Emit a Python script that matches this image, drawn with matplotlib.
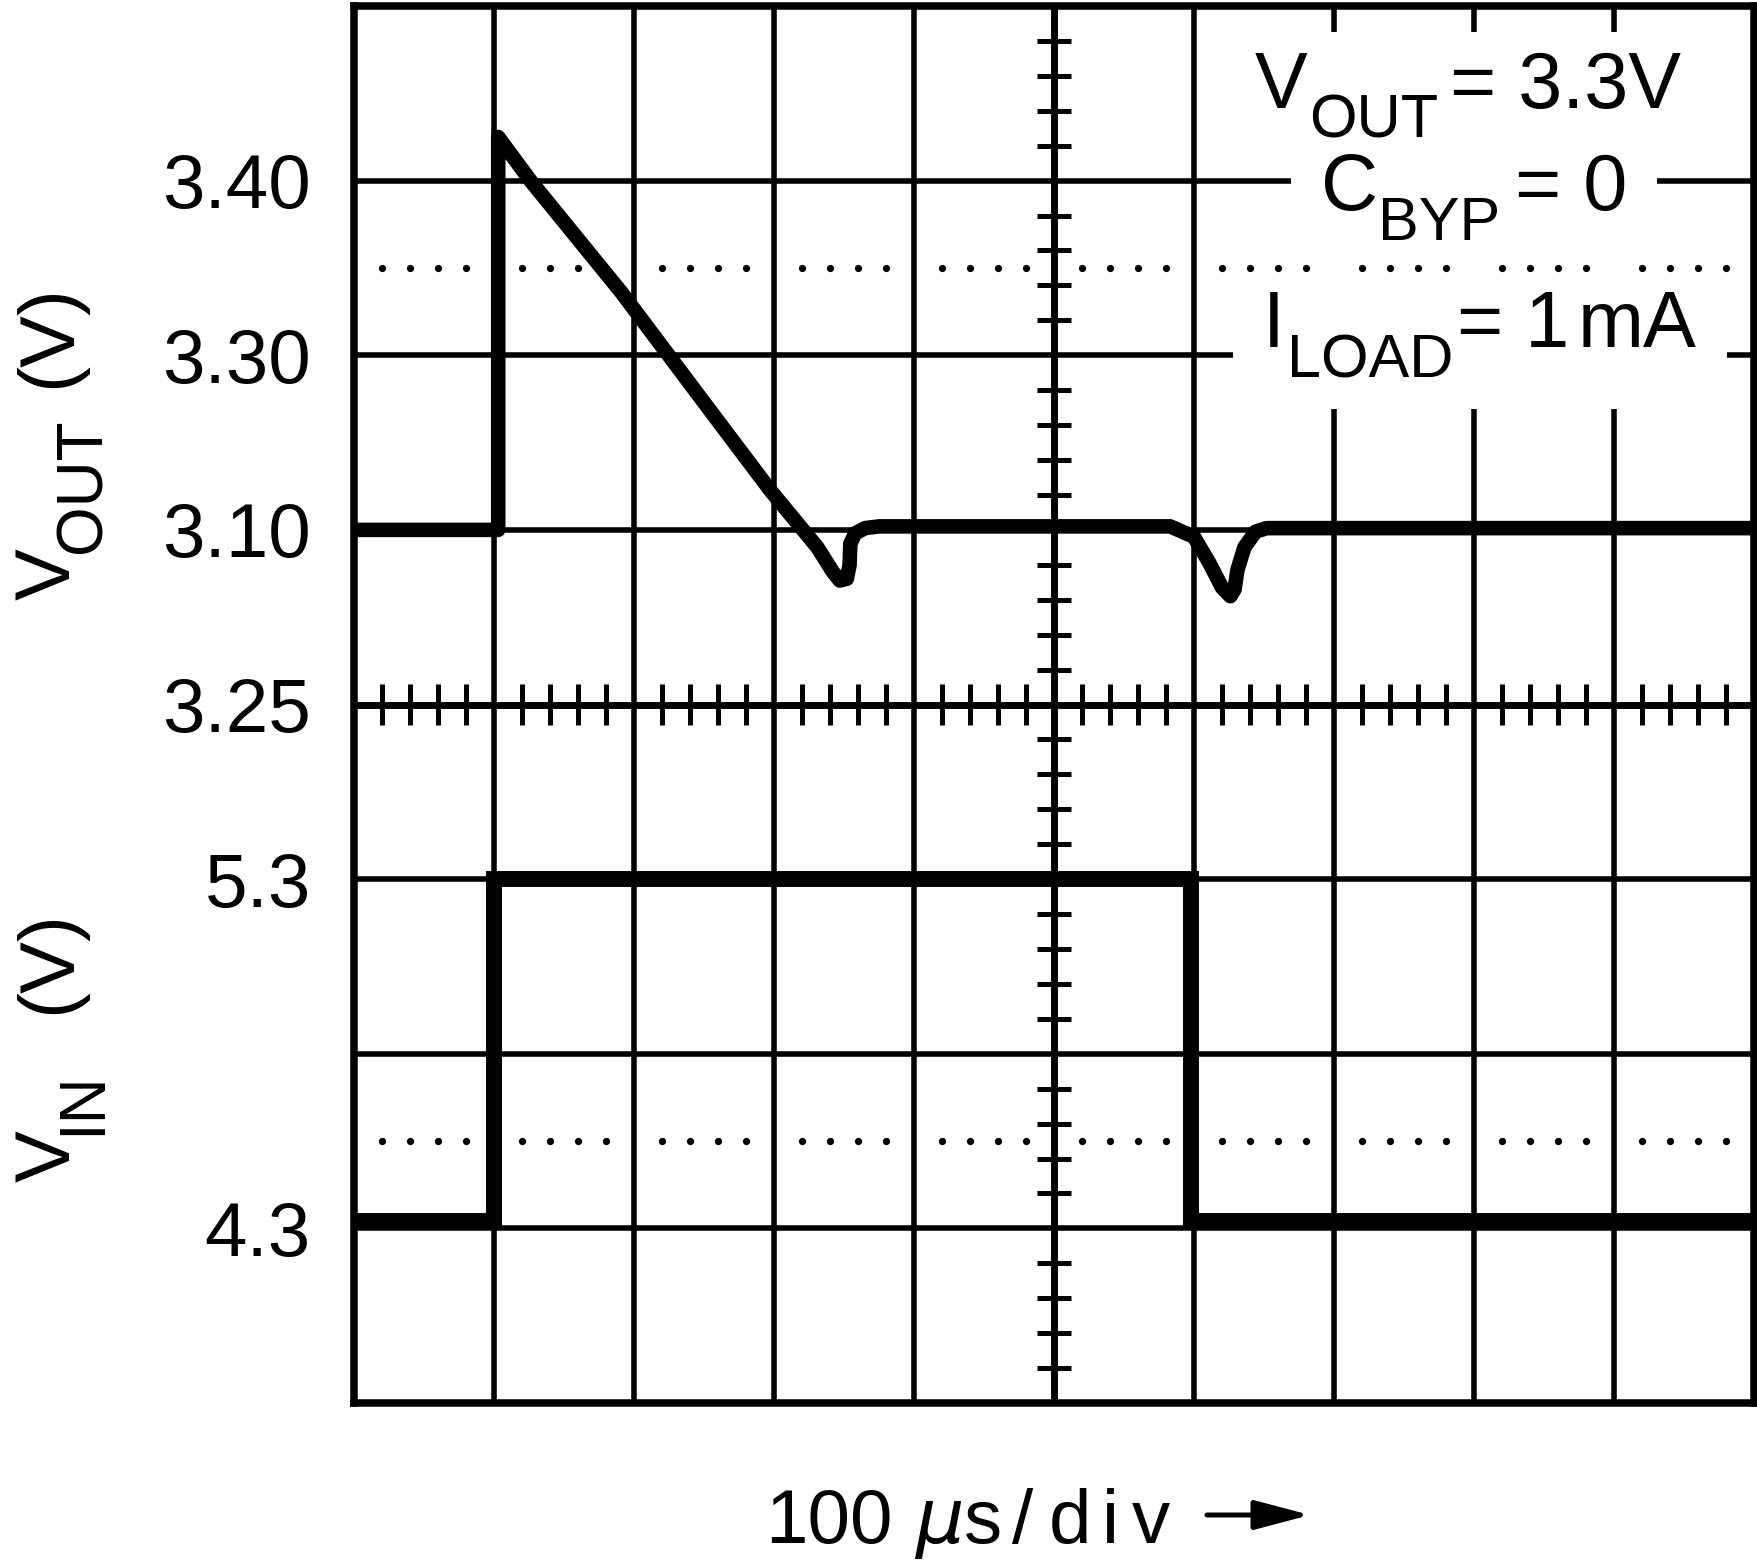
import matplotlib
matplotlib.use('Agg')
import matplotlib.pyplot as plt
from matplotlib.patches import Rectangle
from matplotlib.transforms import IdentityTransform, Bbox

plt.rcParams['font.family'] = ['Liberation Sans', 'DejaVu Sans']

W, H, DPI = 1758, 1562, 100

# scope traces, in screen divisions (10 across, 8 high, origin bottom-left)
vout_t = [0.0, 1.03, 1.03, 1.26, 1.91, 2.5, 2.97, 3.31, 3.42, 3.47, 3.52, 3.54,
          3.545, 3.58, 3.65, 3.75, 5.83, 6.0, 6.11, 6.2, 6.26, 6.29, 6.31, 6.36,
          6.44, 6.52, 10.0]
vout_v = [5.0, 5.0, 7.25, 7.0, 6.36, 5.73, 5.23, 4.90, 4.76, 4.71, 4.72, 4.80,
          4.92, 4.98, 5.01, 5.02, 5.02, 4.96, 4.81, 4.67, 4.62, 4.66, 4.77, 4.90,
          4.99, 5.01, 5.01]
vin_t = [0.0, 1.0, 1.0, 5.98, 5.98, 10.0]
vin_v = [1.04, 1.04, 3.0, 3.0, 1.04, 1.04]

ytick_pos = [7, 6, 5, 4, 3, 1]
ytick_labels = ['3.40', '3.30', '3.10', '3.25', '5.3', '4.3']
dotted_rows = [6.5, 1.5]

fig = plt.figure(figsize=(W / DPI, H / DPI), dpi=DPI)
ax = fig.add_axes([354 / W, (H - 1403) / H, 1400 / W, 1397 / H])
ax.set_xlim(0, 10)
ax.set_ylim(0, 8)

# graticule
for x in range(1, 10):
    ax.axvline(x, color='k', lw=5.0 if x == 5 else 4.0, zorder=1)
for y in range(1, 8):
    ax.axhline(y, color='k', lw=5.0 if y == 4 else 4.0, zorder=1)
minor = [k * 0.2 for k in range(1, 50) if k % 5]
ax.vlines(minor, 4 - 0.115, 4 + 0.115, color='k', lw=3.6, zorder=1.5)
ax.hlines([k * 0.2 for k in range(1, 40) if k % 5], 5 - 0.12, 5 + 0.12,
          color='k', lw=3.6, zorder=1.5)
for row in dotted_rows:
    ax.plot(minor, [row] * len(minor), 'o', ms=5.2, color='k', mew=0, zorder=3)

for s in ax.spines.values():
    s.set_linewidth(5.4)
    s.set_zorder(6)

# traces
ax.plot(vout_t, vout_v, color='k', lw=10.5, solid_joinstyle='round',
        solid_capstyle='butt', zorder=5)
ax.plot(vin_t, vin_v, color='k', lw=11.5, solid_joinstyle='miter',
        solid_capstyle='butt', zorder=5)

ax.set_xticks([])
ax.set_yticks(ytick_pos, ytick_labels, fontsize=55)
ax.tick_params(axis='y', length=0, pad=31)

renderer = fig.canvas.get_renderer()


def piece(text, x, y, size, rot=0, **kw):
    """Place one text run at image pixel coords (x, baseline y from top)."""
    return ax.text(x, H - y, text, transform=IdentityTransform(), fontsize=size,
                   rotation=rot, rotation_mode='anchor', ha='left',
                   va='baseline', zorder=4, clip_on=False, **kw)


def knockout(texts, padx=30, pady=18):
    """White patch behind a line of text so the graticule is broken there."""
    bb = Bbox.union([t.get_window_extent(renderer) for t in texts])
    ax.add_patch(Rectangle((bb.x0 - padx, bb.y0 - pady), bb.width + 2 * padx,
                           bb.height + 2 * pady, transform=IdentityTransform(),
                           facecolor='white', edgecolor='none', zorder=2,
                           clip_on=False))


BIG, SUB = 57, 44

# conditions box, top right
knockout([piece('V', 1255, 108, BIG),
          piece('OUT', 1309, 137, SUB),
          piece('= 3.3V', 1450, 108, BIG)])
knockout([piece('C', 1321, 210, BIG),
          piece('BYP', 1378, 240, SUB),
          piece('= 0', 1515, 210, BIG)])
knockout([piece('I', 1263, 347, BIG),
          piece('LOAD', 1287, 378, SUB),
          piece('= 1', 1457, 347, BIG),
          piece('mA', 1578, 347, BIG)])

# rotated axis titles
piece('V', 70, 600, 56, rot=90)
piece('OUT', 100, 553, 46, rot=90)
piece('(V)', 70, 388, 56, rot=90)
piece('V', 70, 1182, 56, rot=90)
piece('IN', 100, 1135, 46, rot=90)
piece('(V)', 70, 1014, 56, rot=90)

# time base, letters spread out like the original lettering
piece('100', 765, 1543, 55)
piece('μ', 915, 1543, 55, fontstyle='italic', family=['DejaVu Sans'])
for ch, x in zip('s/div', [964, 1012, 1049, 1102, 1132]):
    piece(ch, x, 1543, 55)
ax.annotate('', xy=(1310, H - 1515), xytext=(1207, H - 1515),
            xycoords='figure pixels', textcoords='figure pixels',
            arrowprops=dict(arrowstyle='-|>,head_length=3.4,head_width=0.9',
                            mutation_scale=10, lw=3.6, color='k',
                            shrinkA=0, shrinkB=0))

fig.savefig('out.png', dpi=DPI)
